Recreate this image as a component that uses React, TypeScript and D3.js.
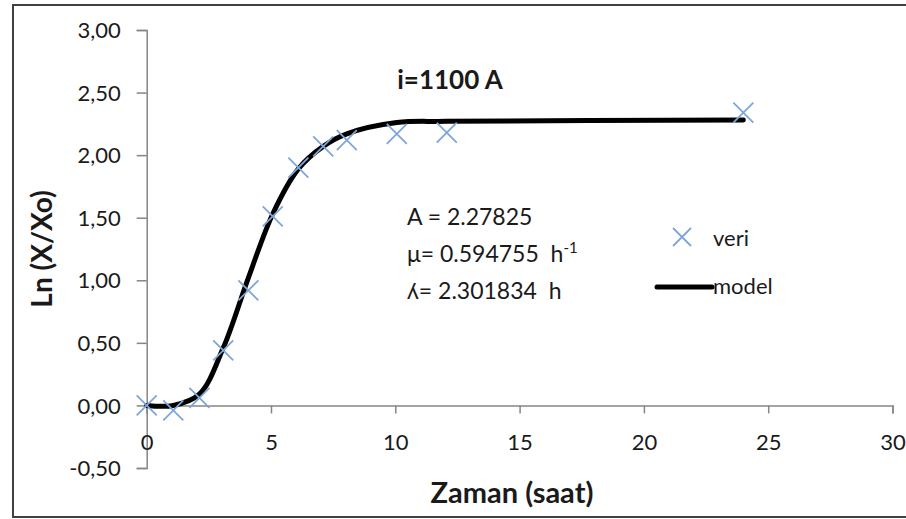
import React, { useEffect, useRef } from 'react';
import * as d3 from 'd3';

// measured data (veri)
const veriX = [0, 1.07, 2.12, 3.08, 4.09, 5.07, 6.1, 7.1, 8.05, 10.06, 12.07, 24.0];
const veriY = [0, -0.04, 0.06, 0.44, 0.92, 1.51, 1.9, 2.07, 2.12, 2.17, 2.18, 2.34];
// fitted model line, read at the same times
const modelY = [0, 0.0, 0.09, 0.46, 1.02, 1.53, 1.89, 2.07, 2.17, 2.26, 2.27, 2.28];

const xTicks = [0, 5, 10, 15, 20, 25, 30];
const yTicks = [-0.5, 0, 0.5, 1, 1.5, 2, 2.5, 3];
const paramLines = ['A = 2.27825', 'μ= 0.594755\u00a0\u00a0h', 'ʎ= 2.301834\u00a0\u00a0h'];

const W = 906;
const H = 519;
const FONT = 'Lato, "Open Sans", sans-serif';
const INK = '#1a1a1a';

export default function App() {
  const ref = useRef<SVGSVGElement>(null);

  useEffect(() => {
    const svg = d3.select(ref.current);
    svg.selectAll('*').remove();

    svg.append('rect').attr('width', W).attr('height', H).attr('fill', '#fff');
    // chart frame
    svg.append('rect')
      .attr('x', 13).attr('y', 5)
      .attr('width', W + 20).attr('height', 512)
      .attr('fill', 'none').attr('stroke', '#404040').attr('stroke-width', 2);

    const x = d3.scaleLinear().domain([0, 30]).range([146.7, 892.5]);
    const y = d3.scaleLinear().domain([-0.5, 3]).range([468, 30]);

    // y axis
    const yAxis = d3.axisLeft(y).tickValues(yTicks).tickSize(10)
      .tickFormat((d) => (d as number).toFixed(2).replace('.', ','));
    const gy = svg.append('g').attr('transform', `translate(${x(0)},0)`).call(yAxis);
    gy.select('.domain').attr('stroke', '#868686').attr('stroke-width', 1.5);
    gy.selectAll('.tick line').attr('stroke', '#868686').attr('stroke-width', 1.5);
    gy.selectAll('.tick text')
      .attr('x', -26).attr('dy', '0.35em')
      .style('font-family', FONT).style('font-size', '22px').attr('fill', INK);

    // x axis at y = 0
    const xAxis = d3.axisBottom(x).tickValues(xTicks).tickSize(8).tickFormat(d3.format('d'));
    const gx = svg.append('g').attr('transform', `translate(0,${y(0)})`).call(xAxis);
    gx.select('.domain').attr('stroke', '#868686').attr('stroke-width', 1.5);
    gx.selectAll('.tick line').attr('stroke', '#868686').attr('stroke-width', 1.5);
    gx.selectAll('.tick text')
      .attr('y', 29)
      .style('font-family', FONT).style('font-size', '22px').attr('fill', INK);

    // model line
    const line = d3.line<number>()
      .x((_, i) => x(veriX[i]))
      .y((d) => y(d))
      .curve(d3.curveCatmullRom.alpha(0.5));
    svg.append('path')
      .datum(modelY)
      .attr('d', line)
      .attr('fill', 'none')
      .attr('stroke', '#000')
      .attr('stroke-width', 5)
      .attr('stroke-linecap', 'round');

    // data markers
    const s = 10;
    const marks = svg.append('g').attr('stroke', '#7ea6d8').attr('stroke-width', 1.8);
    veriX.forEach((vx, i) => {
      const cx = x(vx);
      const cy = y(veriY[i]);
      marks.append('path').attr('d', `M${cx - s},${cy - s}L${cx + s},${cy + s}M${cx - s},${cy + s}L${cx + s},${cy - s}`);
    });

    // title
    svg.append('text')
      .attr('x', 450).attr('y', 89)
      .attr('text-anchor', 'middle')
      .style('font-family', FONT).style('font-size', '26px').style('font-weight', 'bold')
      .attr('fill', INK)
      .text('i=1100 A');

    // parameters
    const params = svg.append('g')
      .style('font-family', FONT).style('font-size', '23px').attr('fill', INK);
    params.append('text').attr('x', 407).attr('y', 225).text(paramLines[0]);
    const mu = params.append('text').attr('x', 407).attr('y', 262).text(paramLines[1]);
    mu.append('tspan').attr('dy', -9).style('font-size', '15px').text('-1');
    params.append('text').attr('x', 407).attr('y', 299).text(paramLines[2]);

    // legend
    const lx = 682;
    const ly = 237;
    marks.append('path').attr('d', `M${lx - 9},${ly - 9}L${lx + 9},${ly + 9}M${lx - 9},${ly + 9}L${lx + 9},${ly - 9}`);
    svg.append('text').attr('x', 713).attr('y', 246)
      .style('font-family', FONT).style('font-size', '22px').attr('fill', INK).text('veri');
    svg.append('line')
      .attr('x1', 657).attr('x2', 712).attr('y1', 287).attr('y2', 287)
      .attr('stroke', '#000').attr('stroke-width', 5).attr('stroke-linecap', 'round');
    svg.append('text').attr('x', 713).attr('y', 294)
      .style('font-family', FONT).style('font-size', '22px').attr('fill', INK).text('model');

    // axis titles
    svg.append('text')
      .attr('transform', 'translate(52,249) rotate(-90)')
      .attr('text-anchor', 'middle')
      .style('font-family', FONT).style('font-size', '28px').style('font-weight', 'bold')
      .attr('fill', INK)
      .text('Ln (X/Xo)');
    svg.append('text')
      .attr('x', 512).attr('y', 503)
      .attr('text-anchor', 'middle')
      .style('font-family', FONT).style('font-size', '29px').style('font-weight', 'bold')
      .attr('fill', INK)
      .text('Zaman (saat)');
  }, []);

  return (
    <svg ref={ref} width={W} height={H}
      style={{ position: 'absolute', left: 0, top: 0, display: 'block' }} />
  );
}
